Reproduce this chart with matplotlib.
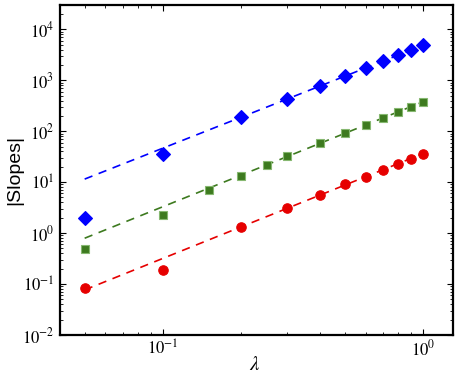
import numpy as np
import matplotlib
matplotlib.use("Agg")
import matplotlib.pyplot as plt

plt.rcParams['mathtext.fontset'] = 'stix'
plt.rcParams['font.family'] = ['STIXGeneral', 'Liberation Serif']

# datos
lam_blue = [0.05, 0.1, 0.2, 0.3, 0.4, 0.5, 0.6, 0.7, 0.8, 0.9, 1.0]
slopes_blue = [2.0, 36, 188, 430, 773, 1200, 1740, 2390, 3130, 3930, 4860]

lam_green = [0.05, 0.1, 0.15, 0.2, 0.25, 0.3, 0.4, 0.5, 0.6, 0.7, 0.8, 0.9, 1.0]
slopes_green = [0.485, 2.29, 7.06, 13.3, 22.1, 32.4, 58, 92.7, 133, 182, 239, 303, 376]

lam_red = [0.05, 0.1, 0.2, 0.3, 0.4, 0.5, 0.6, 0.7, 0.8, 0.9, 1.0]
slopes_red = [0.0835, 0.19, 1.29, 3.09, 5.64, 9.13, 12.9, 17.4, 23.2, 29.0, 35.9]


def ajuste(lam, vals, lmin=0.2):
    # ajuste potencial en log-log con los puntos de lambda grande
    lam = np.array(lam)
    vals = np.array(vals)
    m = lam >= lmin
    p = np.polyfit(np.log10(lam[m]), np.log10(vals[m]), 1)
    xs = np.array([lam.min(), lam.max()])
    return xs, 10 ** np.polyval(p, np.log10(xs))


fig = plt.figure(figsize=(4.59, 3.74), dpi=100)
ax = fig.add_axes([0.1307, 0.1043, 0.8563, 0.8823])

series = [
    (lam_blue, slopes_blue, 'D', '#0000ff', '#0000ff', 7.6),
    (lam_green, slopes_green, 's', '#3d7a1f', '#86b870', 6.3),
    (lam_red, slopes_red, 'o', '#e60000', '#e60000', 6.8),
]
for lam, vals, mk, fc, ec, ms in series:
    xs, ys = ajuste(lam, vals)
    ax.plot(xs, ys, '--', color=fc, lw=1.2, dashes=(5, 4), zorder=2)
    ax.plot(lam, vals, mk, ms=ms, mfc=fc, mec=ec, mew=0.8, zorder=3)

ax.set_xscale('log')
ax.set_yscale('log')
ax.set_xlim(0.0402, 1.30)
ax.set_ylim(1e-2, 3e4)

ax.set_xlabel(r'$\lambda$', fontsize=15)
ax.xaxis.set_label_coords(0.496, -0.06)
ax.set_ylabel('|Slopes|', fontsize=14, family='Liberation Sans')
ax.yaxis.set_label_coords(-0.094, 0.5)

ax.tick_params(which='both', direction='in', top=True, right=True, labelsize=12)
ax.tick_params(which='major', length=4, width=0.8, pad=4)
ax.tick_params(which='minor', length=2.5, width=0.6)
ax.tick_params(axis='x', which='major', pad=3)
for s in ax.spines.values():
    s.set_linewidth(1.6)

plt.savefig('out.png', dpi=100)
plt.close()
